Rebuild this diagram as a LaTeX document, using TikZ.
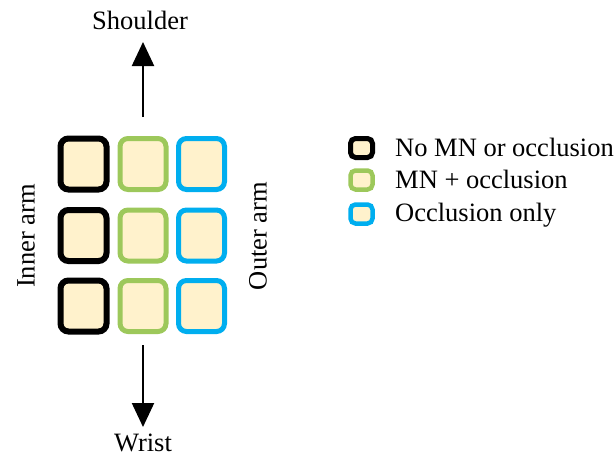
\documentclass[tikz,border=0pt]{standalone}
\usepackage{fontspec}
\setmainfont{Liberation Serif}
\usetikzlibrary{arrows.meta}
\definecolor{cream}{HTML}{FFF2CC}
\definecolor{mngreen}{HTML}{9DC85B}
\definecolor{occblue}{HTML}{00AEEF}
\begin{document}
\begin{tikzpicture}[x=1pt,y=-1pt,
  cell/.style={draw, fill=cream, rounded corners=8pt, minimum width=46pt, minimum height=51pt, inner sep=0pt},
  legbox/.style={draw, fill=cream, rounded corners=5pt, minimum width=22pt, minimum height=19pt, inner sep=0pt, line width=4.5pt},
  blk/.style={line width=6pt, draw=black},
  grn/.style={line width=5pt, draw=mngreen},
  blu/.style={line width=5pt, draw=occblue},
  lbl/.style={font=\fontsize{26.5}{31}\selectfont, inner sep=0pt},
  arr/.style={line width=2.2pt, -{Triangle[width=22pt,length=24pt]}}
]
\useasboundingbox (0,0) rectangle (614,458);
% grid
\node[cell,blk] (b1) at (83.5,164) {};
\node[cell,blk] (b2) at (83.5,235.5) {};
\node[cell,blk] (b3) at (83.5,306) {};
\node[cell,grn] (g1) at (143,164) {};
\node[cell,grn] (g2) at (143,235.5) {};
\node[cell,grn] (g3) at (143,306) {};
\node[cell,blu] (c1) at (201.5,164) {};
\node[cell,blu] (c2) at (201.5,235.5) {};
\node[cell,blu] (c3) at (201.5,306) {};
% labels
\node[lbl, anchor=base] (shoulder) at (140,29) {Shoulder};
\node[lbl, anchor=base] (wrist) at (143,451) {Wrist};
\node[lbl, rotate=90] (inner) at (26,236) {Inner arm};
\node[lbl, rotate=90] (outer) at (258,236) {Outer arm};
% arrows
\coordinate (ua) at (143,117);
\coordinate (ut) at (143,42);
\coordinate (da) at (143,345);
\coordinate (dt) at (143,427);
\draw[arr] (ua) -- (ut);
\draw[arr] (da) -- (dt);
% legend
\node[legbox,draw=black,line width=5pt] (l1) at (361.5,148) {};
\node[legbox,draw=mngreen] (l2) at (361.5,180) {};
\node[legbox,draw=occblue] (l3) at (361.5,214) {};
\node[lbl, anchor=base west] (t1) at (395,156) {No MN or occlusion};
\node[lbl, anchor=base west] (t2) at (395,188) {MN + occlusion};
\node[lbl, anchor=base west] (t3) at (395,221) {Occlusion only};
\end{tikzpicture}
\end{document}
